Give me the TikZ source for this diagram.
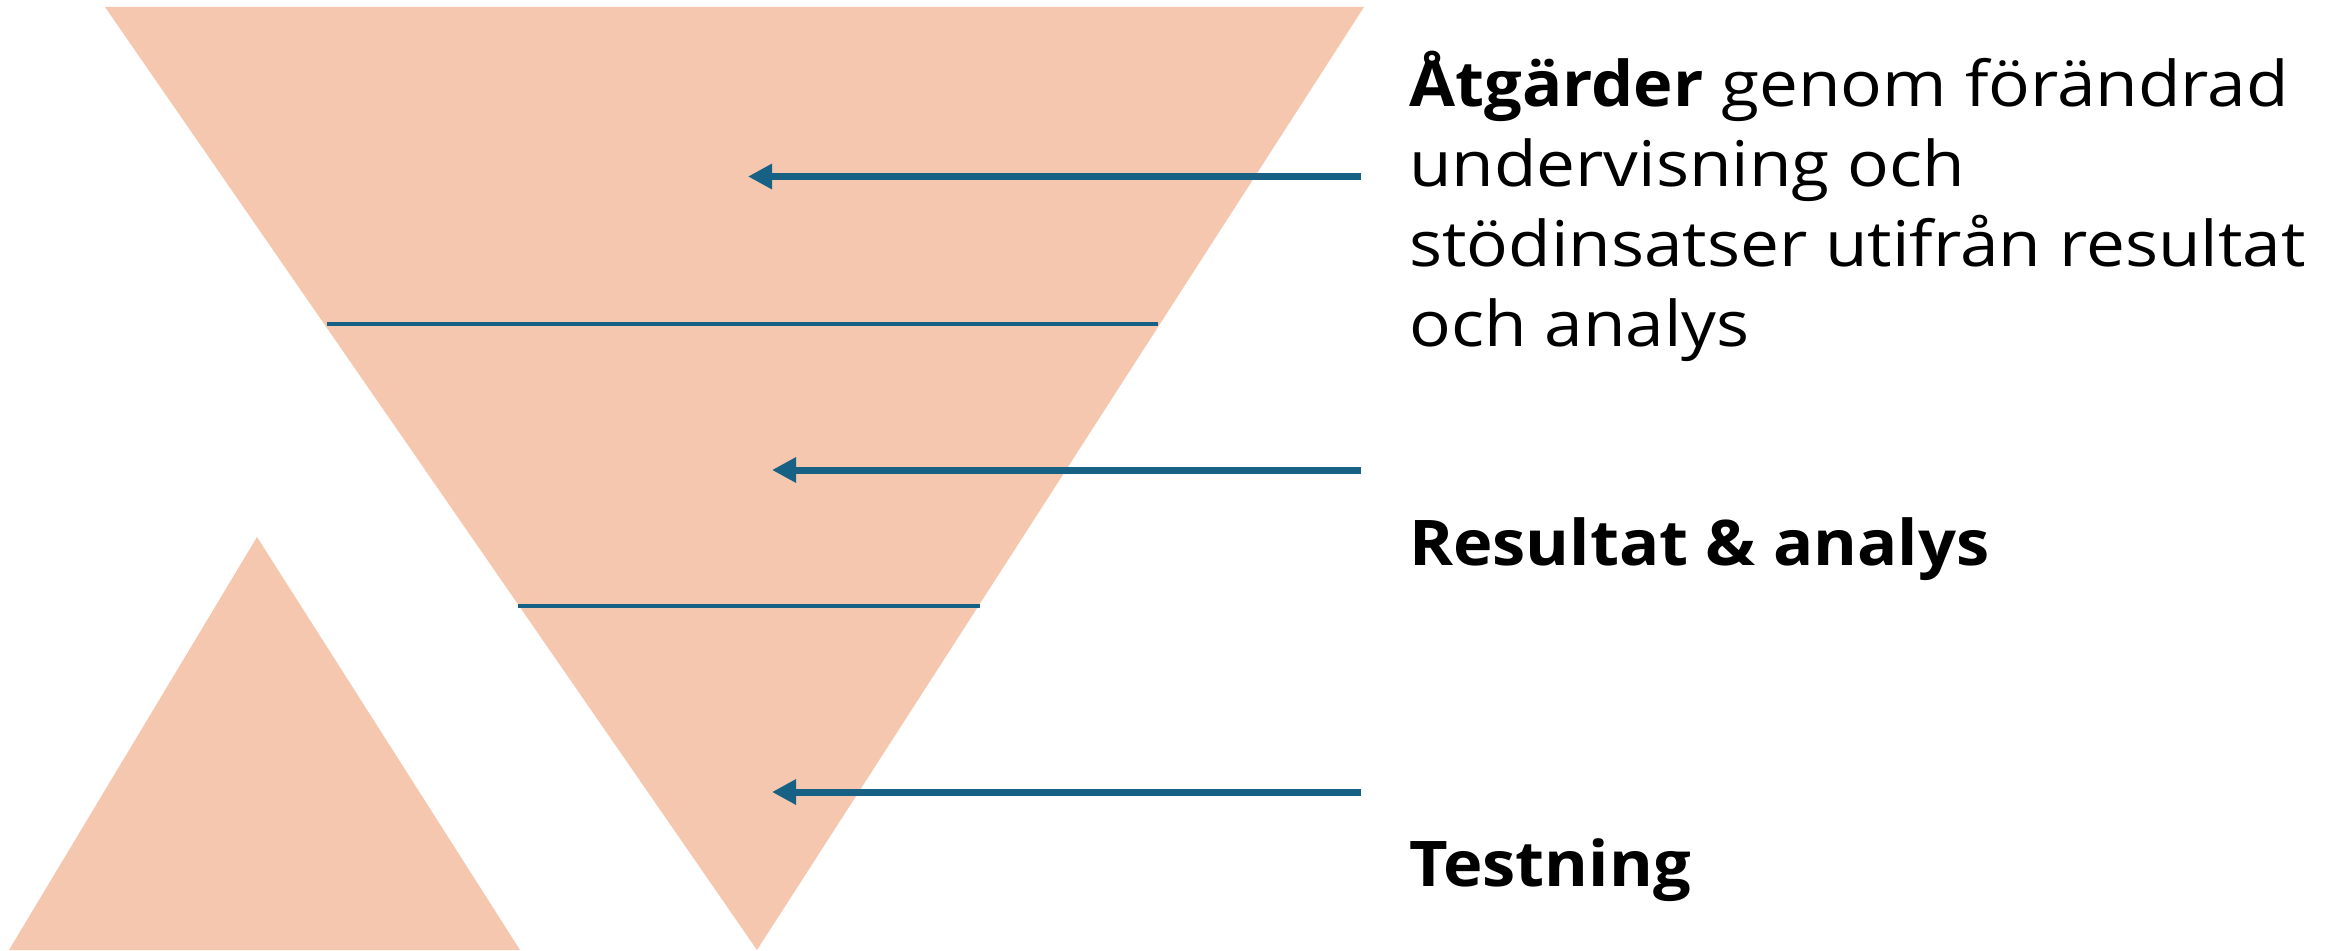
\documentclass[tikz,border=0pt]{standalone}
\usepackage{fontspec}
\setmainfont{Open Sans}[FakeStretch=1.1]
\newfontfamily\boldfam{Open Sans}[FakeStretch=1.06]
\usetikzlibrary{arrows.meta}
\definecolor{peach}{HTML}{F5C7AE}
\definecolor{navy}{HTML}{176184}
\newcommand{\heavytext}[1]{{\boldfam\bfseries #1}}
\tikzset{
  shape fill/.style={fill=peach, draw=none},
  divider/.style={draw=navy, line width=3.7pt},
  pointer/.style={draw=navy, line width=7pt, -{Triangle[length=24pt,width=24pt]}},
  label/.style={inner sep=0pt, anchor=base west, align=left, font=\fontsize{63}{80}\selectfont},
}
\begin{document}
\begin{tikzpicture}[x=1pt, y=-1pt]
\useasboundingbox (0,0) rectangle (2328,950);
% triangles
\path[shape fill] (105,7) -- (1364,7) -- (757,950) -- cycle;
\path[shape fill] (257,537) -- (520,950) -- (9,950) -- cycle;
% divider lines
\coordinate (d1a) at (327,323.7);
\coordinate (d1b) at (1158,323.7);
\coordinate (d2a) at (518,606);
\coordinate (d2b) at (980,606);
\draw[divider] (d1a) -- (d1b);
\draw[divider] (d2a) -- (d2b);
% arrows
\coordinate (a1s) at (1361,176.5);
\coordinate (a1e) at (748,176.5);
\coordinate (a2s) at (1361,470);
\coordinate (a2e) at (772,470);
\coordinate (a3s) at (1361,792);
\coordinate (a3e) at (772,792);
\draw[pointer] (a1s) -- (a1e);
\draw[pointer] (a2s) -- (a2e);
\draw[pointer] (a3s) -- (a3e);
% labels
\node[label] (t1) at (1409,346.7) {\heavytext{Åtgärder} genom förändrad\\undervisning och\\stödinsatser utifrån resultat\\och analys};
\node[label] (t2) at (1409,565) {\heavytext{Resultat \& analys}};
\node[label] (t3) at (1409,886) {\heavytext{Testning}};
\end{tikzpicture}
\end{document}
